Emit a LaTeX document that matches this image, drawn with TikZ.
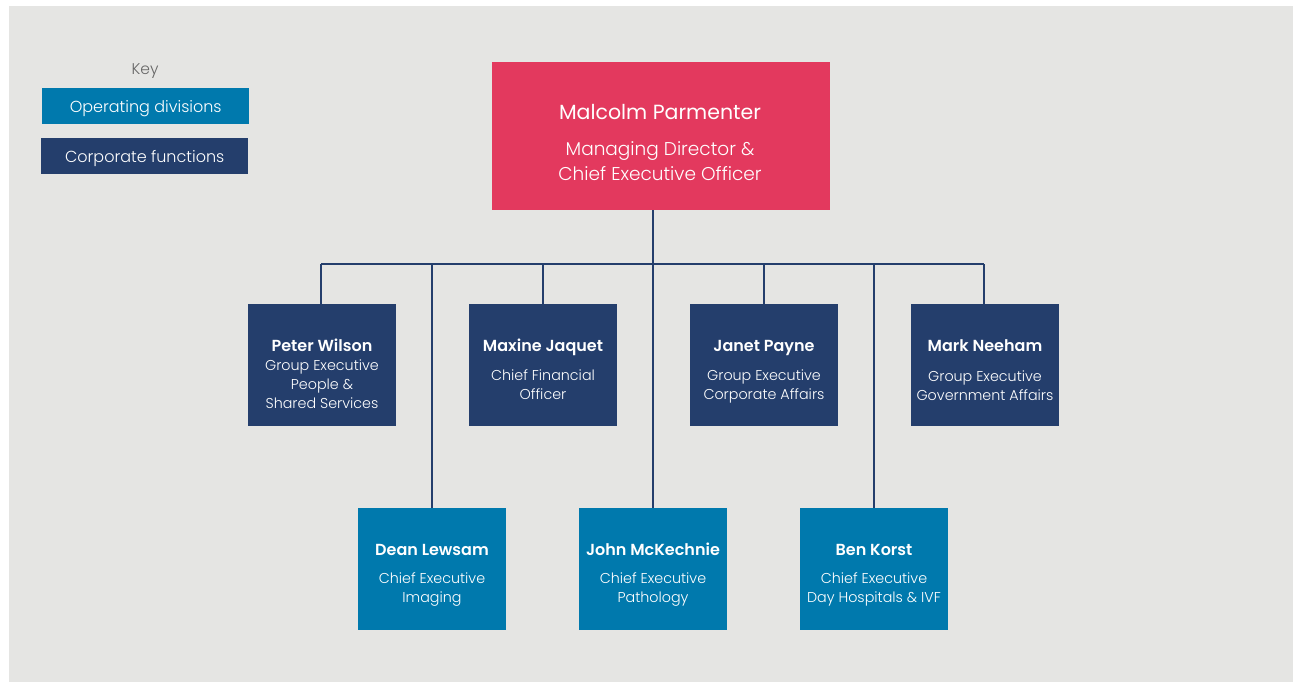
\documentclass[tikz,border=0pt]{standalone}
\usepackage{fontspec}
\setmainfont{Poppins}[BoldFont={Poppins SemiBold}]
\newfontfamily\lightfont{Poppins Light}
\begin{document}
\begin{tikzpicture}[x=1pt,y=-1pt,
  box/.style={minimum width=148pt,minimum height=122pt,inner sep=0pt,align=center,text=white,anchor=north west},
  corp/.style={box,fill=cnavy},
  oper/.style={box,fill=cblue},
  nm/.style={font=\fontsize{16}{18}\selectfont\bfseries,text=white,text height=11.5pt,text depth=0pt,inner sep=0pt},
  tl/.style={font=\lightfont\fontsize{14.3}{19}\selectfont,text=white,align=center},
  link/.style={draw=cnavy,line width=1.8pt},
  keybox/.style={minimum width=207pt,minimum height=36pt,inner sep=0pt,text=white,font=\lightfont\fontsize{16}{18}\selectfont,anchor=north west,text height=12.5pt,text depth=0pt}
]
\definecolor{cgrey}{HTML}{E5E5E3}
\definecolor{cpink}{HTML}{E3395E}
\definecolor{cnavy}{HTML}{243E6C}
\definecolor{cblue}{HTML}{0079AD}
\useasboundingbox (0,0) rectangle (1293,682);
\fill[white] (0,0) rectangle (1293,682);
\fill[cgrey] (9,6) rectangle (1293,682);
% key
\node[text=black!60,font=\lightfont\fontsize{15.5}{18}\selectfont,anchor=base] (keyt) at (145,75) {Key};
\node[keybox,fill=cblue] (k1) at (42,88) {Operating divisions};
\node[keybox,fill=cnavy] (k2) at (41,138) {Corporate functions};
% CEO
\node[fill=cpink,minimum width=338pt,minimum height=148pt,inner sep=0pt,anchor=north west] (ceo) at (492,62) {};
\node[text=white,font=\fontsize{20.5}{24}\selectfont] (ceon) at (660,112) {Malcolm Parmenter};
\node[text=white,font=\lightfont\fontsize{18.5}{25}\selectfont,align=center] (ceot) at (660,161) {Managing Director \&\\Chief Executive Officer};
% boxes
\node[corp] (pw) at (248,304) {};
\node[corp] (mj) at (469,304) {};
\node[corp] (jp) at (690,304) {};
\node[corp] (mn) at (911,304) {};
\node[oper] (dl) at (358,508) {};
\node[oper] (jm) at (579,508) {};
\node[oper] (bk) at (800,508) {};
% text
\node[nm] (pwn) at (322,346) {Peter Wilson};
\node[tl] (pwt) at (322,384) {Group Executive\\People \&\\Shared Services};
\node[nm] (mjn) at (543,346) {Maxine Jaquet};
\node[tl] (mjt) at (543,385) {Chief Financial\\Officer};
\node[nm] (jpn) at (764,346) {Janet Payne};
\node[tl] (jpt) at (764,386.5) {Group Executive\\Corporate Affairs};
\node[nm] (mnn) at (985,346) {Mark Neeham};
\node[tl] (mnt) at (985,385.5) {Group Executive\\Government Affairs};
\node[nm] (dln) at (432,550) {Dean Lewsam};
\node[tl] (dlt) at (432,589.5) {Chief Executive\\Imaging};
\node[nm] (jmn) at (653,550) {John McKechnie};
\node[tl] (jmt) at (653,589) {Chief Executive\\Pathology};
\node[nm] (bkn) at (874,550) {Ben Korst};
\node[tl] (bkt) at (874,589.5) {Chief Executive\\Day Hospitals \& IVF};
% connectors
\coordinate (busl) at (321,264);
\coordinate (busr) at (984,264);
\draw[link] (busl) -- (busr);
\draw[link] (ceo.south -| jm.north) -- (jm.north);
\draw[link] (busl) -- (pw.north -| busl);
\draw[link] (mj.north |- busl) -- (mj.north);
\draw[link] (jp.north |- busl) -- (jp.north);
\draw[link] (busr) -- (mn.north -| busr);
\draw[link] (dl.north |- busl) -- (dl.north);
\draw[link] (bk.north |- busl) -- (bk.north);
\end{tikzpicture}
\end{document}
